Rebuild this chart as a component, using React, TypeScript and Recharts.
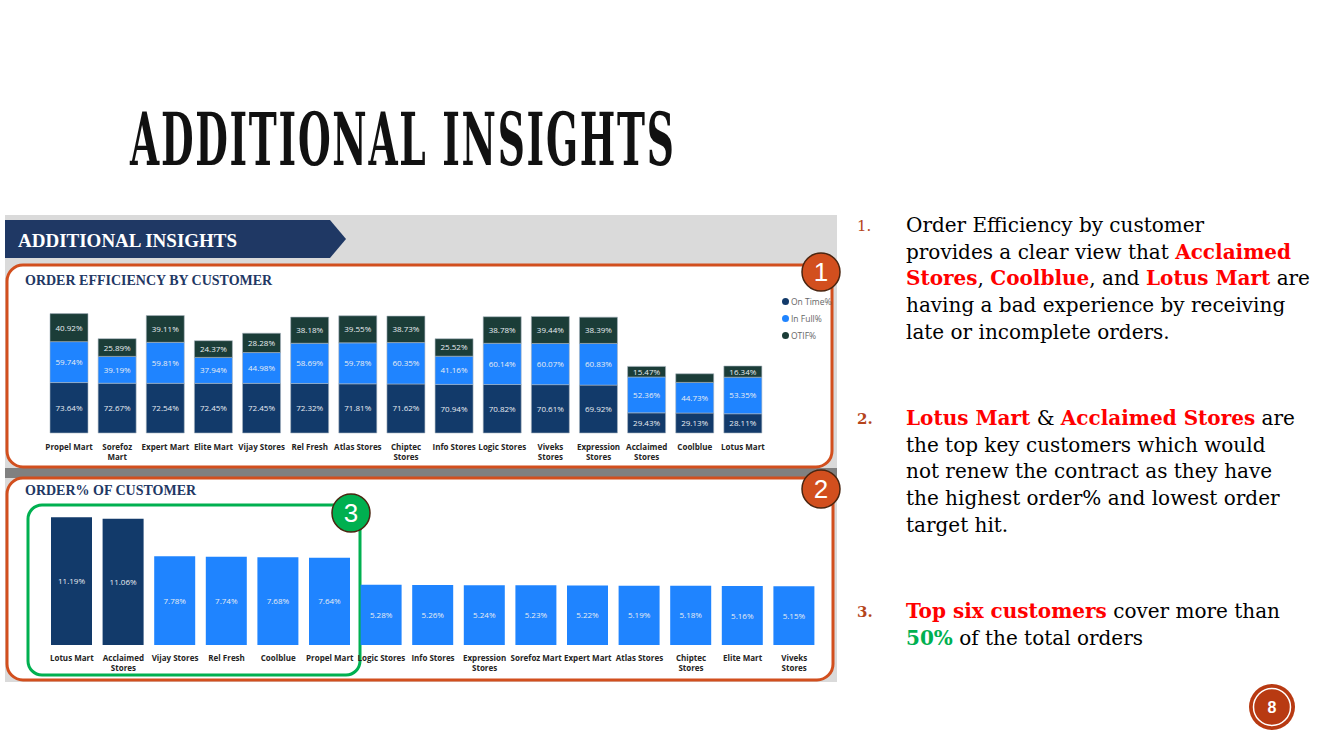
import React from 'react';
import { BarChart, Bar, XAxis, YAxis, LabelList, Cell } from 'recharts';

const effCategories = ['Propel Mart', 'Sorefoz Mart', 'Expert Mart', 'Elite Mart', 'Vijay Stores', 'Rel Fresh', 'Atlas Stores', 'Chiptec Stores', 'Info Stores', 'Logic Stores', 'Viveks Stores', 'Expression Stores', 'Acclaimed Stores', 'Coolblue', 'Lotus Mart'];
const effTickLabels = ['Propel Mart', 'Sorefoz\nMart', 'Expert Mart', 'Elite Mart', 'Vijay Stores', 'Rel Fresh', 'Atlas Stores', 'Chiptec\nStores', 'Info Stores', 'Logic Stores', 'Viveks\nStores', 'Expression\nStores', 'Acclaimed\nStores', 'Coolblue', 'Lotus Mart'];
const onTime = [73.64, 72.67, 72.54, 72.45, 72.45, 72.32, 71.81, 71.62, 70.94, 70.82, 70.61, 69.92, 29.43, 29.13, 28.11];
const inFull = [59.74, 39.19, 59.81, 37.94, 44.98, 58.69, 59.78, 60.35, 41.16, 60.14, 60.07, 60.83, 52.36, 44.73, 53.35];
const otif = [40.92, 25.89, 39.11, 24.37, 28.28, 38.18, 39.55, 38.73, 25.52, 38.78, 39.44, 38.39, 15.47, 12.6, 16.34];

const orderCategories = ['Lotus Mart', 'Acclaimed Stores', 'Vijay Stores', 'Rel Fresh', 'Coolblue', 'Propel Mart', 'Logic Stores', 'Info Stores', 'Expression Stores', 'Sorefoz Mart', 'Expert Mart', 'Atlas Stores', 'Chiptec Stores', 'Elite Mart', 'Viveks Stores'];
const orderTickLabels = ['Lotus Mart', 'Acclaimed\nStores', 'Vijay Stores', 'Rel Fresh', 'Coolblue', 'Propel Mart', 'Logic Stores', 'Info Stores', 'Expression\nStores', 'Sorefoz Mart', 'Expert Mart', 'Atlas Stores', 'Chiptec\nStores', 'Elite Mart', 'Viveks\nStores'];
const orderPct = [11.19, 11.06, 7.78, 7.74, 7.68, 7.64, 5.28, 5.26, 5.24, 5.23, 5.22, 5.19, 5.18, 5.16, 5.15];
const highlighted = ['Lotus Mart', 'Acclaimed Stores'];

const seriesNames = ['On Time%', 'In Full%', 'OTIF%'];

const NAVY = '#123a6a';
const BLUE = '#1f84ff';
const TEAL = '#1b3d38';
const ORANGE = '#d24f1e';
const GREEN = '#00b050';
const seriesColors = [NAVY, BLUE, TEAL];

const effData = effCategories.map((name, i) => ({
  name,
  tick: effTickLabels[i],
  onTime: onTime[i],
  inFull: inFull[i],
  otif: otif[i],
}));

const orderData = orderCategories.map((name, i) => ({
  name,
  tick: orderTickLabels[i],
  pct: orderPct[i],
}));

const uiFont = "'Open Sans', 'DejaVu Sans', sans-serif";

const makeTick = (labels: string[], names: string[], dy: number) => (props: any) => {
  const { x, y, payload } = props;
  const idx = names.indexOf(payload.value);
  const lines = (labels[idx] || payload.value).split('\n');
  return (
    <text x={x} y={y + dy} textAnchor="middle" fontSize={8} fontWeight={700} fill="#252423" fontFamily={uiFont}>
      {lines.map((l, i) => (
        <tspan key={i} x={x} dy={i === 0 ? 0 : 10}>{l}</tspan>
      ))}
    </text>
  );
};

// hide labels that don't fit in a thin segment
const segLabel = (props: any) => {
  const { x, y, width, height, value } = props;
  if (height < 9.5) return null;
  return (
    <text x={x + width / 2} y={y + height / 2} dy={3} textAnchor="middle" fontSize={8} fill="#e9edf2" fontFamily={uiFont}>
      {`${Number(value).toFixed(2)}%`}
    </text>
  );
};

const Badge = ({ cx, cy, label, fill }: { cx: number; cy: number; label: string; fill: string }) => (
  <g>
    <circle cx={cx} cy={cy} r={19} fill={fill} stroke="#4a2510" strokeWidth={1.5} />
    <text x={cx} y={cy + 9} textAnchor="middle" fontSize={26} fill="#fff" fontFamily="'Liberation Sans', sans-serif">{label}</text>
  </g>
);

const red = { color: '#ff0000', fontWeight: 700 };
const green = { color: GREEN, fontWeight: 700 };
const bodyText: React.CSSProperties = {
  position: 'absolute',
  left: 906,
  fontFamily: "'DejaVu Serif', serif",
  fontSize: 20,
  lineHeight: '26.7px',
  color: '#000',
  whiteSpace: 'nowrap',
};
const numStyle: React.CSSProperties = {
  position: 'absolute',
  left: 857,
  fontFamily: "'DejaVu Serif', serif",
  fontSize: 15,
  color: '#b5451b',
};

export default function App() {
  return (
    <div style={{ position: 'relative', width: 1334, height: 750, background: '#fff', overflow: 'hidden' }}>
      <style>{'body{margin:0}'}</style>

      {/* slide title */}
      <div
        style={{
          position: 'absolute',
          left: 130,
          top: 97,
          fontFamily: "'DejaVu Serif Condensed', 'DejaVu Serif', serif",
          fontWeight: 900,
          fontSize: 72,
          letterSpacing: 3,
          color: '#111',
          whiteSpace: 'nowrap',
          transform: 'scaleX(0.58)',
          transformOrigin: 'left top',
        }}
      >
        ADDITIONAL INSIGHTS
      </div>

      {/* report screenshot frame */}
      <svg width={1334} height={750} style={{ position: 'absolute', left: 0, top: 0 }}>
        <rect x={5} y={215} width={832} height={467} fill="#dadada" />
        <rect x={5} y={468} width={832} height={10} fill="#808080" />
        <polygon points="5,220 330,220 346,239 330,258 5,258" fill="#1f3864" />
        <text x={18} y={247} fontSize={19} fontWeight={700} fill="#fff" fontFamily="'Liberation Serif', serif">ADDITIONAL INSIGHTS</text>

        <rect x={7} y={265} width={825} height={202} rx={16} fill="#fff" stroke={ORANGE} strokeWidth={3} />
        <text x={25} y={285} fontSize={14} fontWeight={700} fill="#1f3864" fontFamily="'Liberation Serif', serif">ORDER EFFICIENCY BY CUSTOMER</text>

        <rect x={7} y={478} width={826} height={202} rx={16} fill="#fff" stroke={ORANGE} strokeWidth={3} />
        <text x={25} y={495} fontSize={14} fontWeight={700} fill="#1f3864" fontFamily="'Liberation Serif', serif">ORDER% OF CUSTOMER</text>

        <rect x={28} y={505} width={332} height={170} rx={14} fill="none" stroke={GREEN} strokeWidth={3} />

        <Badge cx={821} cy={272} label="1" fill={ORANGE} />
        <Badge cx={821} cy={489} label="2" fill={ORANGE} />
        <Badge cx={351} cy={513} label="3" fill={GREEN} />

        {/* page number */}
        <circle cx={1272} cy={707} r={23} fill="#b83a12" />
        <circle cx={1272} cy={707} r={18.5} fill="none" stroke="#fff" strokeWidth={1.5} />
        <text x={1272} y={713} textAnchor="middle" fontSize={16} fontWeight={700} fill="#fff" fontFamily="'Liberation Sans', sans-serif">8</text>
      </svg>

      {/* legend for order efficiency */}
      <div style={{ position: 'absolute', left: 782, top: 293, fontFamily: uiFont, fontSize: 8.5, color: '#666' }}>
        {seriesNames.map((s, i) => (
          <div key={s} style={{ display: 'flex', alignItems: 'center', height: 17 }}>
            <span style={{ width: 7, height: 7, borderRadius: 4, background: seriesColors[i], marginRight: 2 }} />
            {s}
          </div>
        ))}
      </div>

      {/* order efficiency by customer */}
      <div style={{ position: 'absolute', left: 0, top: 286 }}>
        <BarChart width={840} height={179} data={effData} margin={{ top: 10, right: 73, left: 45, bottom: 0 }}>
          <XAxis
            dataKey="name"
            height={32}
            axisLine={false}
            tickLine={false}
            tickSize={0}
            tickMargin={0}
            interval={0}
            tick={makeTick(effTickLabels, effCategories, 17)}
          />
          <YAxis hide width={0} domain={[0, 200]} />
          <Bar dataKey="onTime" name={seriesNames[0]} stackId="a" fill={NAVY} barSize={38} stroke="#a9b6bf" strokeWidth={0.6} isAnimationActive={false}>
            <LabelList dataKey="onTime" content={segLabel} />
          </Bar>
          <Bar dataKey="inFull" name={seriesNames[1]} stackId="a" fill={BLUE} barSize={38} stroke="#a9b6bf" strokeWidth={0.6} isAnimationActive={false}>
            <LabelList dataKey="inFull" content={segLabel} />
          </Bar>
          <Bar dataKey="otif" name={seriesNames[2]} stackId="a" fill={TEAL} barSize={38} stroke="#a9b6bf" strokeWidth={0.6} isAnimationActive={false}>
            <LabelList dataKey="otif" content={segLabel} />
          </Bar>
        </BarChart>
      </div>

      {/* order% of customer */}
      <div style={{ position: 'absolute', left: 0, top: 500 }}>
        <BarChart width={840} height={180} data={orderData} margin={{ top: 8, right: 20, left: 46, bottom: 0 }}>
          <XAxis
            dataKey="name"
            height={35}
            axisLine={false}
            tickLine={false}
            tickSize={0}
            tickMargin={0}
            interval={0}
            tick={makeTick(orderTickLabels, orderCategories, 16)}
          />
          <YAxis hide width={0} domain={[0, 12]} />
          <Bar dataKey="pct" barSize={41} isAnimationActive={false}>
            {orderData.map((d) => (
              <Cell key={d.name} fill={highlighted.includes(d.name) ? NAVY : BLUE} />
            ))}
            <LabelList dataKey="pct" content={segLabel} />
          </Bar>
        </BarChart>
      </div>

      {/* commentary */}
      <div style={{ ...numStyle, top: 217 }}>1.</div>
      <div style={{ ...bodyText, top: 212 }}>
        Order Efficiency by customer<br />
        provides a clear view that <span style={red}>Acclaimed</span><br />
        <span style={red}>Stores</span>, <span style={red}>Coolblue</span>, and <span style={red}>Lotus Mart</span> are<br />
        having a bad experience by receiving<br />
        late or incomplete orders.
      </div>

      <div style={{ ...numStyle, top: 410, fontWeight: 700 }}>2.</div>
      <div style={{ ...bodyText, top: 405 }}>
        <span style={red}>Lotus Mart</span> &amp; <span style={red}>Acclaimed Stores</span> are<br />
        the top key customers which would<br />
        not renew the contract as they have<br />
        the highest order% and lowest order<br />
        target hit.
      </div>

      <div style={{ ...numStyle, top: 603, fontWeight: 700 }}>3.</div>
      <div style={{ ...bodyText, top: 598 }}>
        <span style={red}>Top six customers</span> cover more than<br />
        <span style={green}>50%</span> of the total orders
      </div>
    </div>
  );
}
